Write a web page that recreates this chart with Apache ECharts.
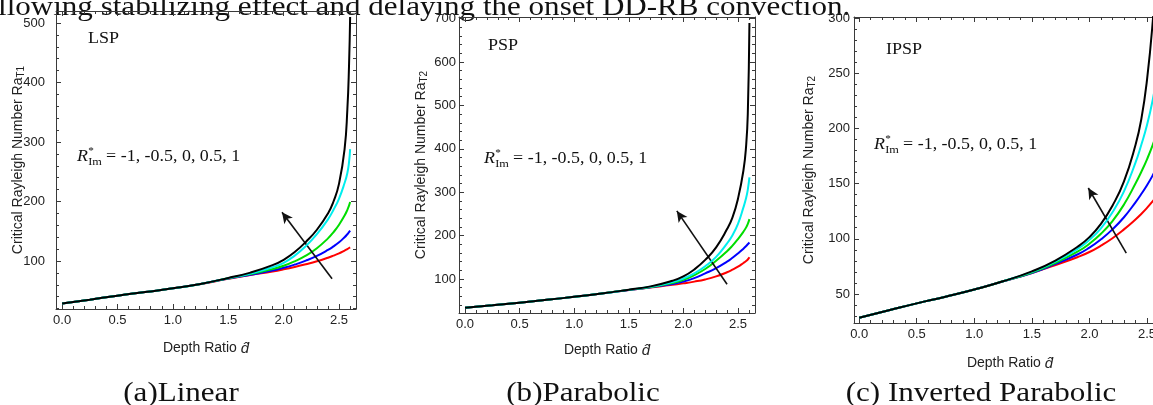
<!DOCTYPE html>
<html><head><meta charset="utf-8">
<script src="https://cdn.jsdelivr.net/npm/echarts@6/dist/echarts.min.js"></script>
<style>html,body{margin:0;padding:0;overflow:hidden;background:#fff;width:1153px;height:405px}#c{width:1170px;height:405px}</style>
</head><body><div id="c"></div>
<script>
// ---------- data ----------
const dA = [0, 0.25, 0.5, 0.75, 1.0, 1.25, 1.5, 1.7, 1.9, 2.0, 2.1, 2.2, 2.3, 2.4, 2.45, 2.5, 2.55, 2.575, 2.59, 2.6];
const aRed   = [28.5, 35, 41.7, 47.8, 54, 61.5, 70, 76.5, 82.5, 86, 90, 94.5, 99.5, 105.5, 109, 112.8, 117.5, 120, 121.8, 123];
const aBlue  = [28.5, 35, 41.7, 47.8, 54, 61.5, 70.5, 77, 84, 88.5, 94, 100.5, 108.5, 118.5, 124.5, 131.5, 140, 145, 148.5, 151];
const aGreen = [28.5, 35, 41.7, 47.8, 54, 61.5, 71, 78, 86.5, 92, 99.5, 109, 121.5, 138, 148.5, 161, 176.5, 186, 193, 199];
const aCyan  = [28.5, 35, 41.7, 47.8, 54, 61.5, 71, 79, 89.5, 97, 109, 125, 145, 170, 186, 205, 231, 248, 266, 288];
const aBlack = [28.5, 35, 41.7, 47.8, 54, 61.5, 71.5, 80.5, 93, 102, 115, 132, 152.5, 180, 200, 230, 288, 355, 428, 510];

const dB = [0, 0.25, 0.5, 0.75, 1.0, 1.25, 1.5, 1.7, 1.9, 2.0, 2.1, 2.2, 2.3, 2.4, 2.45, 2.5, 2.55, 2.575, 2.59, 2.605];
const bRed   = [34, 39.5, 45.5, 52, 59, 66.5, 74.5, 80.5, 86.5, 90, 94, 99, 106, 115.5, 121.5, 128.5, 137, 141.5, 145, 150];
const bBlue  = [34, 39.5, 45.5, 52, 59, 66.5, 74.5, 81, 88.5, 94, 102, 113, 125, 140, 149, 159, 170, 176, 180, 184];
const bGreen = [34, 39.5, 45.5, 52, 59, 66.5, 75, 81.5, 90.5, 98, 109, 123, 142, 164, 177, 192, 209, 219, 227, 238];
const bCyan  = [34, 39.5, 45.5, 52, 59, 66.5, 75, 82, 93, 101, 113, 129.5, 151, 182, 201, 227, 265, 287, 306, 334];
const bBlack = [34, 39.5, 45.5, 52, 59, 66.5, 75.5, 83, 96, 106, 122, 144, 173, 215, 242, 285, 350, 408, 480, 690];

const dC = [0, 0.25, 0.5, 0.75, 1.0, 1.25, 1.5, 1.7, 1.9, 2.0, 2.1, 2.2, 2.3, 2.4, 2.45, 2.5, 2.55, 2.6];
const cRed   = [28.5, 35, 41.5, 47.5, 54, 61.5, 69, 76, 83.5, 88, 93.8, 100.5, 108.5, 117.5, 122.5, 128, 134, 140.5];
const cBlue  = [28.5, 35, 41.5, 47.5, 54, 61.5, 69, 77, 86, 92, 99.5, 108.5, 119.5, 133, 140.5, 148.5, 157.5, 167.5];
const cGreen = [28.5, 35, 41.5, 47.5, 54, 61.5, 69.5, 78, 88.5, 95.5, 104.5, 116, 131, 150, 160.5, 172, 185, 200];
const cCyan  = [28.5, 35, 41.5, 47.5, 54, 61.5, 70, 79, 91, 99, 109.5, 124, 143, 169, 185, 203, 226, 255];
const cBlack = [28.5, 35, 41.5, 47.5, 54, 61.5, 70.5, 80, 93, 101.5, 113.5, 130, 152, 185, 208, 244, 297, 370];

// arrows (data coordinates: tail -> head)
const arrowA = [[2.437, 70], [1.985, 182]];
const arrowB = [[2.40, 88], [1.94, 257]];
const arrowC = [[2.32, 87], [1.99, 146]];

// tick labels
const xMajor = [0, 0.5, 1.0, 1.5, 2.0, 2.5];
const yMajorA = [100, 200, 300, 400, 500];
const yMajorB = [100, 200, 300, 400, 500, 600, 700];
const yMajorC = [50, 100, 150, 200, 250, 300];

const panelTags = ['LSP', 'PSP', 'IPSP'];
const captions = ['(a)Linear', '(b)Parabolic', '(c) Inverted Parabolic'];
const yNames = ['T1', 'T2', 'T2'];
const lineColors = ['#ff0000', '#0000ff', '#00dd00', '#00eeee', '#000000'];

// ---------- helpers ----------
function steps(a, b, s, skip) {
  const out = [];
  for (let k = Math.round(a / s); k * s <= b + 1e-9; k++) {
    const v = +(k * s).toFixed(6);
    if (v < a - 1e-9) continue;
    if (Math.abs(v / skip - Math.round(v / skip)) < 1e-6) continue;
    out.push(v);
  }
  return out;
}
const xAxes = [], yAxes = [];
const frameCol = '#3a3a3a';
const sans = 'Liberation Sans, Arial, sans-serif';
const labFont = {fontFamily: sans, fontSize: 13, color: '#222'};

function addAxes(list, gi, dim, min, max, majors, minors, main) {
  const pos = dim === 'x' ? ['bottom', 'top'] : ['left', 'right'];
  const idx = list.length;
  const base = {type: 'value', gridIndex: gi, min: min, max: max, splitLine: {show: false}, z: 5};
  list.push(Object.assign({}, base, main, {
    position: pos[0],
    axisLine: {show: true, onZero: false, lineStyle: {color: frameCol, width: 1}},
    axisTick: {show: true, inside: true, length: 5, customValues: majors, lineStyle: {color: frameCol}},
    axisLabel: Object.assign({show: true, customValues: majors}, labFont, main.axisLabel || {})
  }));
  list.push(Object.assign({}, base, {
    position: pos[1],
    axisLine: {show: true, onZero: false, lineStyle: {color: frameCol, width: 1}},
    axisTick: {show: true, inside: true, length: 5, customValues: majors, lineStyle: {color: frameCol}},
    axisLabel: {show: false}
  }));
  [pos[0], pos[1]].forEach(p => list.push(Object.assign({}, base, {
    position: p,
    axisLine: {show: false, onZero: false},
    axisTick: {show: true, inside: true, length: 3, customValues: minors, lineStyle: {color: frameCol}},
    axisLabel: {show: false}
  })));
  return idx;
}

const grids = [
  {left: 56, top: 11, width: 300, height: 298},
  {left: 459, top: 17, width: 296, height: 296},
  {left: 854, top: 17, width: 312, height: 306}
];
const xr = [[-0.055, 2.653], [-0.055, 2.656], [-0.045, 2.665]];
const yr = [[19.3, 520.2], [21.7, 703.7], [23.7, 300.9]];
const yMaj = [yMajorA, yMajorB, yMajorC];
const yMinStep = [20, 20, 10];
const yMajStep = [100, 100, 50];
const yLabMargin = [11, 3, 4];
const yNameGap = [30, 30, 37];
const xNameGap = [32, 30, 33];

const xIdx = [], yIdx = [];
for (let i = 0; i < 3; i++) {
  xIdx.push(addAxes(xAxes, i, 'x', xr[i][0], xr[i][1], xMajor, steps(0, 2.65, 0.1, 0.5), {
    name: '{n|Depth Ratio }{d|d̂}', nameLocation: 'middle', nameGap: xNameGap[i], nameMoveOverlap: false,
    nameTextStyle: {fontFamily: sans, fontSize: 14, color: '#222',
      rich: {n: {fontFamily: sans, fontSize: 14, color: '#222'},
             d: {fontFamily: sans, fontSize: 15, fontStyle: 'italic', color: '#222'}}},
    axisLabel: {margin: 5, formatter: v => v.toFixed(1)}
  }));
  yIdx.push(addAxes(yAxes, i, 'y', yr[i][0], yr[i][1], yMaj[i], steps(yMinStep[i], yr[i][1], yMinStep[i], yMajStep[i]), {
    name: '{n|Critical Rayleigh Number Ra}{s|' + yNames[i] + '}', nameLocation: 'middle', nameGap: yNameGap[i], nameRotate: 90,
    nameMoveOverlap: false,
    nameTextStyle: {fontFamily: sans, fontSize: 14, color: '#222',
      rich: {n: {fontFamily: sans, fontSize: 14, color: '#222', lineHeight: 16},
             s: {fontFamily: sans, fontSize: 10, color: '#222', verticalAlign: 'bottom', lineHeight: 16, padding: [7, 0, 0, 0]}}},
    axisLabel: {margin: yLabMargin[i], formatter: v => String(v)}
  }));
}

const panelData = [
  [dA, [aRed, aBlue, aGreen, aCyan, aBlack], arrowA],
  [dB, [bRed, bBlue, bGreen, bCyan, bBlack], arrowB],
  [dC, [cRed, cBlue, cGreen, cCyan, cBlack], arrowC]
];
const series = [];
panelData.forEach((p, i) => {
  p[1].forEach((vals, k) => {
    const s = {
      type: 'line', xAxisIndex: xIdx[i], yAxisIndex: yIdx[i],
      data: p[0].map((d, j) => [d, vals[j]]),
      showSymbol: false, smooth: 0.5, clip: true,
      lineStyle: {color: lineColors[k], width: 2}, itemStyle: {color: lineColors[k]},
      z: 2 + k, silent: true, animation: false
    };
    if (k === 4) {
      s.markLine = {silent: true, symbol: ['none', 'arrow'], symbolSize: [8, 11], animation: false,
        lineStyle: {color: '#111', width: 1.6, type: 'solid'}, label: {show: false},
        data: [[{coord: p[2][0]}, {coord: p[2][1]}]]};
    }
    series.push(s);
  });
});

// ---------- texts (x, baseline) ----------
const serif = 'Liberation Serif, Times New Roman, serif';
function T(x, base, text, size, opt) {
  opt = opt || {};
  return {type: 'text', x: x, y: base - 0.74 * size, silent: true,
    scaleX: opt.sx || 1, scaleY: 1,
    style: {text: text, font: (opt.italic ? 'italic ' : '') + size + 'px ' + serif, fill: '#111',
      align: opt.align || 'left', textAlign: opt.align || 'left',
      verticalAlign: 'top', textVerticalAlign: 'top'}};
}
function Rlabel(x, y) {
  const s = 1.12;
  return [
    T(x, y, 'R', 16, {italic: true, sx: s}),
    T(x + 10 * s, y - 7, '*', 10, {sx: s}),
    T(x + 10 * s, y + 4, 'Im', 11, {sx: s}),
    T(x + 26 * s, y, '= -1, -0.5, 0, 0.5, 1', 16, {sx: s})
  ];
}
const graphics = [
  T(-2, 14, 'llowing stabilizing effect and delaying the onset DD-RB convection.', 27, {sx: 1.15}),
  T(88, 43, panelTags[0], 17, {sx: 1.06}), T(488, 50, panelTags[1], 17, {sx: 1.06}), T(886, 54, panelTags[2], 17, {sx: 1.06}),
  ...Rlabel(77, 161), ...Rlabel(484, 163), ...Rlabel(874, 149),
  T(181, 400, captions[0], 27, {align: 'center', sx: 1.15}),
  T(583, 400, captions[1], 27, {align: 'center', sx: 1.15}),
  T(981, 400, captions[2], 27, {align: 'center', sx: 1.15})
];

const chart = echarts.init(document.getElementById('c'), null, {renderer: 'canvas'});
chart.setOption({
  animation: false,
  backgroundColor: '#fff',
  grid: grids,
  xAxis: xAxes,
  yAxis: yAxes,
  series: series,
  graphic: {elements: graphics}
});
</script></body></html>
